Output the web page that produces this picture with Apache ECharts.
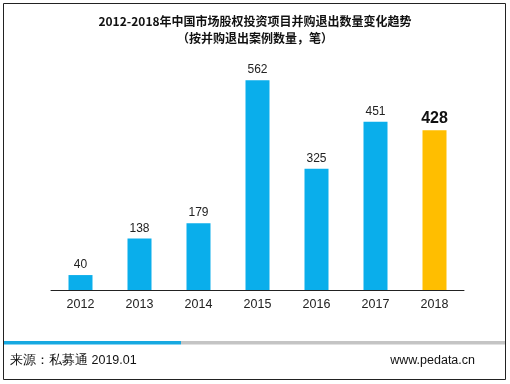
<!DOCTYPE html>
<html><head><meta charset="utf-8">
<script src="https://cdn.jsdelivr.net/npm/echarts@6/dist/echarts.min.js"></script>
<style>html,body{margin:0;padding:0;background:#fff}#c{width:510px;height:384px}</style>
</head><body><div id="c"></div>
<script>
var categories = ['2012','2013','2014','2015','2016','2017','2018'];
var values = [40, 138, 179, 562, 325, 451, 428];
var titleLines = ['2012-2018年中国市场股权投资项目并购退出数量变化趋势', '（按并购退出案例数量，笔）'];
var sourceText = '来源：私募通 2019.01';
var siteText = 'www.pedata.cn';

var chart = echarts.init(document.getElementById('c'));
var font = '"Noto Sans CJK SC", "Liberation Sans", Arial, sans-serif';
var data = values.map(function(v, i){
  var last = i === values.length - 1;
  return {
    value: v,
    itemStyle: {color: last ? '#FFBE00' : '#0AAEEB'},
    label: last ? {fontSize: 16, fontWeight: 'bold', color: '#111'} : {}
  };
});
chart.setOption({
  animation: false,
  backgroundColor: '#fff',
  title: [
    {text: titleLines[0], left: 'center', top: 10, textStyle: {fontFamily: font, fontSize: 12, fontWeight: 'bold', color: '#111'}},
    {text: titleLines[1], left: 'center', top: 27, textStyle: {fontFamily: font, fontSize: 12, fontWeight: 'bold', color: '#111'}}
  ],
  grid: {left: 51, right: 46, top: 66, bottom: 94},
  xAxis: {
    type: 'category', data: categories,
    axisLine: {lineStyle: {color: '#222', width: 1}},
    axisTick: {inside: true, length: 4, lineStyle: {color: '#222'}},
    axisLabel: {color: '#222', fontSize: 12.5, fontFamily: 'Arial, "Liberation Sans", sans-serif', margin: 8}
  },
  yAxis: {type: 'value', min: 0, max: 600, show: false, splitLine: {show: false}},
  series: [{
    type: 'bar', data: data, barWidth: 24,
    label: {show: true, position: 'top', distance: 4, color: '#222', fontSize: 12, fontFamily: 'Arial, "Liberation Sans", sans-serif'}
  }],
  graphic: [
    {type: 'rect', shape: {x: 3.5, y: 3.5, width: 502, height: 376}, style: {fill: 'none', stroke: '#222', lineWidth: 1}},
    {type: 'rect', shape: {x: 4, y: 341, width: 177, height: 3.5}, style: {fill: '#17A9E1'}},
    {type: 'rect', shape: {x: 181, y: 341, width: 324, height: 3.5}, style: {fill: '#C4C4C4'}},
    {type: 'text', left: 10, top: 354, style: {text: sourceText, fontSize: 12.5, fill: '#111', font: '12.5px ' + font}},
    {type: 'text', right: 35, top: 354, style: {text: siteText, fontSize: 12.5, fill: '#111', font: '12.5px Arial, "Liberation Sans", sans-serif'}}
  ]
});
</script></body></html>
